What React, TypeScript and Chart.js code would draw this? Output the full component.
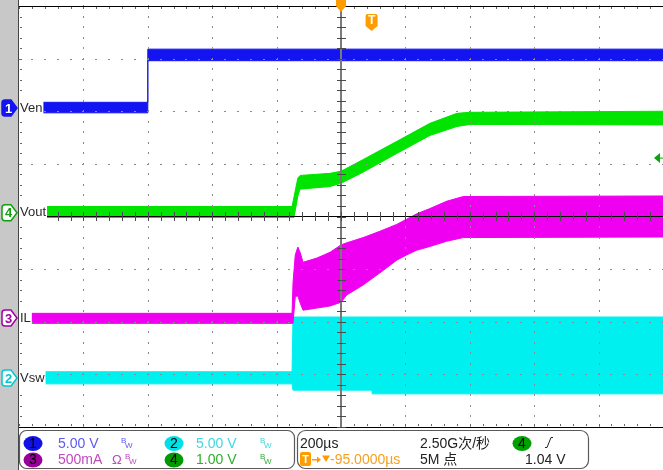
import { useEffect, useRef } from "react";
import { Chart, registerables } from "chart.js";
Chart.register(...registerables);

// Horizontal axis: time in µs (200 µs/div, trigger reference at 0). Vertical axis: divisions.
const X_MIN = -1000;
const X_MAX = 1000;
const X_DIV = 200;
const Y_MIN = -4;
const Y_MAX = 4;

// Ch1 (Ven) envelope, divisions
const ch1Time = [-1000, -600, -600, 1000];
const ch1Upper = [2.17, 2.17, 3.18, 3.18];
const ch1Lower = [1.97, 1.97, 2.96, 2.96];

// Ch4 (Vout) envelope
const ch4Time = [-1000, -152, -146, -134, -127, -34, 0, 68, 174, 276, 360, 400, 1000];
const ch4Upper = [0.19, 0.19, 0.37, 0.73, 0.78, 0.82, 0.86, 1.08, 1.43, 1.77, 1.96, 1.98, 2.0];
const ch4Lower = [-0.02, -0.02, -0.02, 0.39, 0.52, 0.57, 0.63, 0.84, 1.2, 1.54, 1.71, 1.75, 1.74];

// Ch3 (IL) envelope
const ch3Time = [-1000, -152, -149, -142, -134, -127, -118, -75, -34, 0, 18, 69, 121, 173, 204, 235, 276, 328, 380, 1000];
const ch3Upper = [-1.84, -1.84, -1.26, -0.73, -0.58, -0.68, -0.87, -0.79, -0.68, -0.54, -0.5, -0.4, -0.28, -0.15, -0.05, 0.05, 0.15, 0.29, 0.38, 0.39];
const ch3Lower = [-2.03, -2.03, -2.03, -1.52, -1.51, -1.64, -1.78, -1.74, -1.7, -1.63, -1.49, -1.3, -1.07, -0.83, -0.73, -0.64, -0.57, -0.47, -0.4, -0.39];

// Ch2 (Vsw) envelope
const ch2Time = [-1000, -152, -149, 96, 97, 1000];
const ch2Upper = [-2.95, -2.95, -1.91, -1.91, -1.91, -1.91];
const ch2Lower = [-3.18, -3.18, -3.3, -3.3, -3.37, -3.37];

// Channel ground markers (divisions) and names
const chNumbers = ["1", "4", "3", "2"];
const chNames = ["Ven", "Vout", "IL", "Vsw"];
const chOffsets = [2.06, 0.07, -1.93, -3.07];
const chColors = ["#1414f0", "#00e400", "#f000f0", "#00f0f0"];
const chMarkerColors = ["#1414f0", "#10a010", "#a000a0", "#00c8d0"];
const chMarkerFilled = [true, false, false, false];

// Trigger
const triggerTime = 95; // µs
const triggerLevel = 1.04; // V on ch4 (1 V/div)

// Status bar
const scaleRow1 = [
  { n: "1", fill: "#1212e6", text: "5.00 V", color: "#5a5af5", bw: "" },
  { n: "2", fill: "#00e0e6", text: "5.00 V", color: "#3ed8e0", bw: "" },
];
const scaleRow2 = [
  { n: "3", fill: "#990099", text: "500mA", color: "#c048c0", bw: "Ω" },
  { n: "4", fill: "#009a00", text: "1.00 V", color: "#2cb02c", bw: "" },
];
const timebaseText = "200µs";
const sampleRateText = "2.50G次/秒";
const delayText = "-95.0000µs";
const recordText = "5M 点";
const trigSource = "4";
const trigLevelText = "1.04 V";

const FONT = '"Liberation Sans", Arial, "Noto Sans CJK SC", sans-serif';

function pts(t: number[], v: number[]) {
  return t.map((x, i) => ({ x, y: v[i] }));
}

function band(t: number[], up: number[], lo: number[], color: string) {
  return [
    {
      data: pts(t, up),
      borderColor: color,
      backgroundColor: color,
      borderWidth: 1,
      pointRadius: 0,
      fill: "+1",
      tension: 0,
    },
    {
      data: pts(t, lo),
      borderColor: color,
      backgroundColor: color,
      borderWidth: 1,
      pointRadius: 0,
      fill: false,
      tension: 0,
    },
  ];
}

const scopePlugin = {
  id: "scope",
  beforeDraw(chart: any) {
    const ctx = chart.ctx;
    ctx.save();
    ctx.fillStyle = "#ffffff";
    ctx.fillRect(0, 0, chart.width, chart.height);
    ctx.fillStyle = "#c8c8c8";
    ctx.fillRect(0, 0, 18, chart.height);
    ctx.restore();
  },
  afterDatasetsDraw(chart: any) {
    const ctx = chart.ctx;
    const xs = chart.scales.x;
    const ys = chart.scales.y;
    const { left, top, right, bottom } = chart.chartArea;
    ctx.save();
    const minorX: number[] = [];
    for (let t = X_MIN; t <= X_MAX + 0.1; t += X_DIV / 5) minorX.push(Math.round(xs.getPixelForValue(t)));
    const minorY: number[] = [];
    for (let i = 0; i <= (Y_MAX - Y_MIN) * 5; i++) minorY.push(Math.round(ys.getPixelForValue(Y_MIN + i * 0.2)));

    // dotted major grid
    ctx.fillStyle = "#8c8c8c";
    for (let t = X_MIN + X_DIV; t < X_MAX; t += X_DIV) {
      if (t === 0) continue;
      const px = Math.round(xs.getPixelForValue(t));
      for (const py of minorY) ctx.fillRect(px, py - 1, 1, 2);
    }
    for (let v = Y_MIN + 1; v < Y_MAX; v++) {
      if (v === 0) continue;
      const py = Math.round(ys.getPixelForValue(v));
      for (const px of minorX) ctx.fillRect(px - 1, py, 2, 1);
    }
    // border ticks
    ctx.fillStyle = "#666";
    for (const px of minorX) {
      ctx.fillRect(px, top + 1, 1, 2);
      ctx.fillRect(px, bottom - 3, 1, 2);
    }
    for (const py of minorY) ctx.fillRect(left + 1, py, 2, 1);

    // borders
    ctx.fillStyle = "#000";
    ctx.fillRect(left, top, right - left, 1);
    ctx.fillRect(left, bottom, right - left, 2);
    ctx.fillStyle = "#444";
    ctx.fillRect(left - 1, 0, 1, chart.height);

    // centre axes
    const x0 = Math.round(xs.getPixelForValue(0));
    const y0 = Math.floor(ys.getPixelForValue(0));
    ctx.fillStyle = "#7a7a7a";
    ctx.fillRect(x0 - 1, top, 2, bottom - top);
    ctx.fillStyle = "#000";
    ctx.fillRect(left, y0, right - left, 1);
    ctx.fillStyle = "#4a4a4a";
    for (const px of minorX) ctx.fillRect(px, y0 - 4, 1, 9);
    for (const py of minorY) ctx.fillRect(x0 - 4, py, 9, 1);

    // channel labels with white background
    ctx.font = "13px " + FONT;
    ctx.textBaseline = "middle";
    chNames.forEach((name, i) => {
      const py = ys.getPixelForValue(chOffsets[i]);
      const w = ctx.measureText(name).width;
      ctx.fillStyle = "#fff";
      ctx.fillRect(left, py - 9, w + 2, 18);
      ctx.fillStyle = "#2a2a2a";
      ctx.fillText(name, left + 1, py);
    });

    // channel markers in left strip
    chNumbers.forEach((n, i) => {
      const py = ys.getPixelForValue(chOffsets[i]);
      ctx.beginPath();
      ctx.moveTo(5, py - 8);
      ctx.lineTo(11, py - 8);
      ctx.lineTo(17, py);
      ctx.lineTo(11, py + 8);
      ctx.lineTo(5, py + 8);
      ctx.quadraticCurveTo(2, py + 8, 2, py + 5);
      ctx.lineTo(2, py - 5);
      ctx.quadraticCurveTo(2, py - 8, 5, py - 8);
      ctx.closePath();
      ctx.fillStyle = chMarkerFilled[i] ? chMarkerColors[i] : "#fff";
      ctx.fill();
      ctx.lineWidth = 1.5;
      ctx.strokeStyle = chMarkerColors[i];
      ctx.stroke();
      ctx.fillStyle = chMarkerFilled[i] ? "#fff" : chMarkerColors[i];
      ctx.font = "bold 13px " + FONT;
      ctx.textAlign = "center";
      ctx.fillText(n, 8.5, py + 1);
      ctx.textAlign = "left";
    });

    // trigger position marker (top)
    const tx = xs.getPixelForValue(0);
    ctx.fillStyle = "#ff9c00";
    ctx.beginPath();
    ctx.moveTo(tx - 5, 0);
    ctx.lineTo(tx + 5, 0);
    ctx.lineTo(tx + 5, 6);
    ctx.lineTo(tx, 12);
    ctx.lineTo(tx - 5, 6);
    ctx.closePath();
    ctx.fill();
    // trigger "T" icon
    const ttx = xs.getPixelForValue(triggerTime);
    ctx.beginPath();
    ctx.moveTo(ttx - 6, 16);
    ctx.quadraticCurveTo(ttx - 6, 14, ttx - 4, 14);
    ctx.lineTo(ttx + 4, 14);
    ctx.quadraticCurveTo(ttx + 6, 14, ttx + 6, 16);
    ctx.lineTo(ttx + 6, 26);
    ctx.lineTo(ttx, 31);
    ctx.lineTo(ttx - 6, 26);
    ctx.closePath();
    ctx.fill();
    ctx.fillStyle = "#fff";
    ctx.font = "bold 12px " + FONT;
    ctx.textAlign = "center";
    ctx.fillText("T", ttx, 21);
    ctx.textAlign = "left";

    // trigger level marker (right)
    const ly = ys.getPixelForValue(chOffsets[1] + triggerLevel);
    ctx.fillStyle = "#10a010";
    ctx.beginPath();
    ctx.moveTo(right - 9, ly);
    ctx.lineTo(right - 3, ly - 5);
    ctx.lineTo(right - 3, ly + 5);
    ctx.closePath();
    ctx.fill();
    ctx.fillRect(right - 3, ly - 0.5, 3, 1);
    ctx.restore();
  },
  afterDraw(chart: any) {
    const ctx = chart.ctx;
    ctx.save();
    // status boxes
    ctx.fillStyle = "#fff";
    ctx.fillRect(19, 428, chart.width - 19, chart.height - 428);
    ctx.strokeStyle = "#5a5a5a";
    ctx.lineWidth = 1.2;
    ctx.beginPath();
    (ctx as any).roundRect(19.5, 430.5, 275, 38, 7);
    ctx.stroke();
    ctx.beginPath();
    (ctx as any).roundRect(297.5, 430.5, 291, 38, 8);
    ctx.stroke();

    const r1 = 443.5;
    const r2 = 460;
    const circ = (cx: number, cy: number, fill: string, n: string) => {
      ctx.fillStyle = fill;
      ctx.beginPath();
      ctx.ellipse(cx, cy, 9.5, 7.5, 0, 0, Math.PI * 2);
      ctx.fill();
      ctx.fillStyle = "#000";
      ctx.font = "14px " + FONT;
      ctx.textAlign = "center";
      ctx.textBaseline = "middle";
      ctx.fillText(n, cx, cy + 0.5);
      ctx.textAlign = "left";
    };
    const bw = (x: number, y: number, color: string) => {
      ctx.fillStyle = color;
      ctx.font = "8px " + FONT;
      ctx.textBaseline = "middle";
      ctx.fillText("B", x, y - 3);
      ctx.fillText("W", x + 4, y + 2);
    };
    const txt = (s: string, x: number, y: number, color: string, size = 14) => {
      ctx.fillStyle = color;
      ctx.font = size + "px " + FONT;
      ctx.textBaseline = "middle";
      ctx.fillText(s, x, y);
    };
    const cols = [33, 174];
    const textX = [58, 196];
    const bwX = [121, 260];
    [scaleRow1, scaleRow2].forEach((row, ri) => {
      const y = ri === 0 ? r1 : r2;
      row.forEach((c, ci) => {
        circ(cols[ci], y, c.fill, c.n);
        txt(c.text, textX[ci], y + 0.5, c.color);
        if (c.bw) {
          txt(c.bw, 112, y + 0.5, c.color, 13);
          bw(bwX[ci] + 4, y, c.color);
        } else {
          bw(bwX[ci], y, c.color);
        }
      });
    });

    txt(timebaseText, 300, r1 + 0.5, "#222");
    txt(sampleRateText, 420, r1 + 0.5, "#222");
    circ(522, r1, "#00a000", trigSource);
    // rising edge icon
    ctx.strokeStyle = "#222";
    ctx.lineWidth = 1;
    ctx.beginPath();
    ctx.moveTo(545, 447.5);
    ctx.lineTo(547, 447.5);
    ctx.lineTo(551, 437.5);
    ctx.lineTo(553, 437.5);
    ctx.stroke();

    // trigger delay row
    const orange = "#f5a020";
    ctx.fillStyle = "#ff9c00";
    ctx.beginPath();
    (ctx as any).roundRect(300, 452, 11, 14, 2);
    ctx.fill();
    ctx.fillStyle = "#fff";
    ctx.font = "bold 11px " + FONT;
    ctx.textAlign = "center";
    ctx.textBaseline = "middle";
    ctx.fillText("T", 305.5, 459.5);
    ctx.textAlign = "left";
    ctx.fillStyle = "#ff9c00";
    ctx.fillRect(312, 459, 6, 1.5);
    ctx.beginPath();
    ctx.moveTo(317, 456.5);
    ctx.lineTo(321, 459.7);
    ctx.lineTo(317, 463);
    ctx.closePath();
    ctx.fill();
    ctx.beginPath();
    ctx.moveTo(322, 455.5);
    ctx.lineTo(330, 455.5);
    ctx.lineTo(326, 462);
    ctx.closePath();
    ctx.fill();
    txt(delayText, 330, r2 + 0.5, orange);
    txt(recordText, 420, r2 + 0.5, "#222");
    txt(trigLevelText, 525, r2 + 0.5, "#222");
    ctx.restore();
  },
};

export default function App() {
  const ref = useRef<HTMLCanvasElement | null>(null);
  useEffect(() => {
    if (!ref.current) return;
    const chart = new Chart(ref.current, {
      type: "line",
      data: {
        datasets: [
          ...band(ch4Time, ch4Upper, ch4Lower, chColors[1]),
          ...band(ch1Time, ch1Upper, ch1Lower, chColors[0]),
          ...band(ch3Time, ch3Upper, ch3Lower, chColors[2]),
          ...band(ch2Time, ch2Upper, ch2Lower, chColors[3]),
        ] as any,
      },
      options: {
        responsive: false,
        animation: false,
        events: [],
        layout: { padding: { left: 19, top: 6, right: 0, bottom: 43 } },
        plugins: { legend: { display: false }, tooltip: { enabled: false }, title: { display: false } },
        scales: {
          x: { type: "linear", min: X_MIN, max: X_MAX, display: false },
          y: { type: "linear", min: Y_MIN, max: Y_MAX, display: false },
        },
      },
      plugins: [scopePlugin],
    });
    return () => chart.destroy();
  }, []);
  return (
    <div style={{ position: "absolute", left: 0, top: 0, width: 663, height: 470 }}>
      <canvas ref={ref} width={663} height={470} style={{ display: "block" }} />
    </div>
  );
}
